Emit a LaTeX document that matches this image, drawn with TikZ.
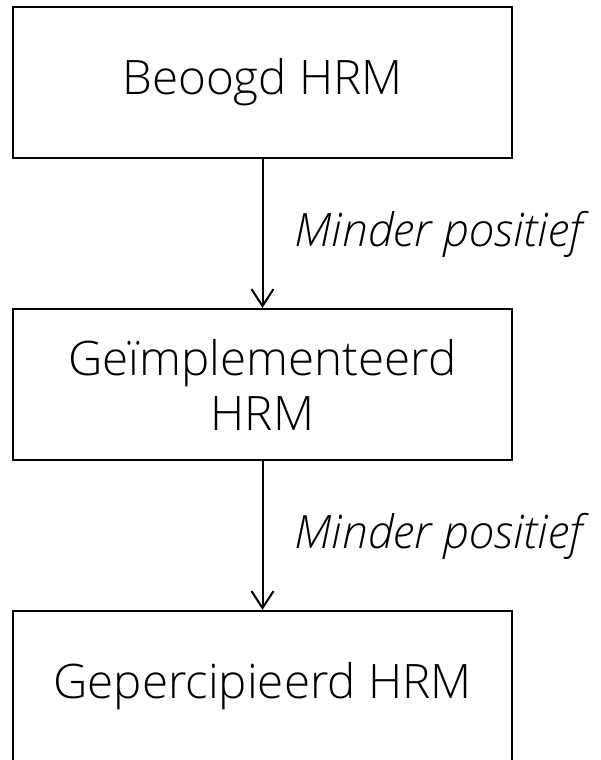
\documentclass[tikz,border=0pt]{standalone}
\usepackage{fontspec}
\setmainfont{Open Sans}[UprightFont={* Light}, ItalicFont={* Light Italic}]
\usetikzlibrary{arrows.meta}
\begin{document}
\begin{tikzpicture}[x=1pt,y=-1pt,
  box/.style={draw=black, line width=2.2pt, minimum width=499pt, minimum height=151pt, inner sep=0pt, align=center, font=\fontsize{47.5}{55}\selectfont},
  conn/.style={draw=black, line width=2pt, -{Straight Barb[length=17pt,width=22pt,line width=2pt]}},
  lbl/.style={anchor=west, inner sep=0pt, font=\fontsize{46}{52}\selectfont\itshape}]
\useasboundingbox (0,0) rectangle (600,760);
\begin{scope}
\clip (0,0) rectangle (600,760);
\node[box] (b1) at (262.5,82.5) {Beoogd HRM};
\node[box] (b2) at (262.5,384.5) {Geïmplementeerd\\HRM};
\node[box] (b3) at (262.5,686.5) {Gepercipieerd HRM};
\draw[conn] (b1.south) -- (b2.north) node[midway, lbl, xshift=31pt, yshift=-1pt] (l1) {Minder positief};
\draw[conn] (b2.south) -- (b3.north) node[midway, lbl, xshift=31pt, yshift=-1pt] (l2) {Minder positief};
\end{scope}
\end{tikzpicture}
\end{document}
